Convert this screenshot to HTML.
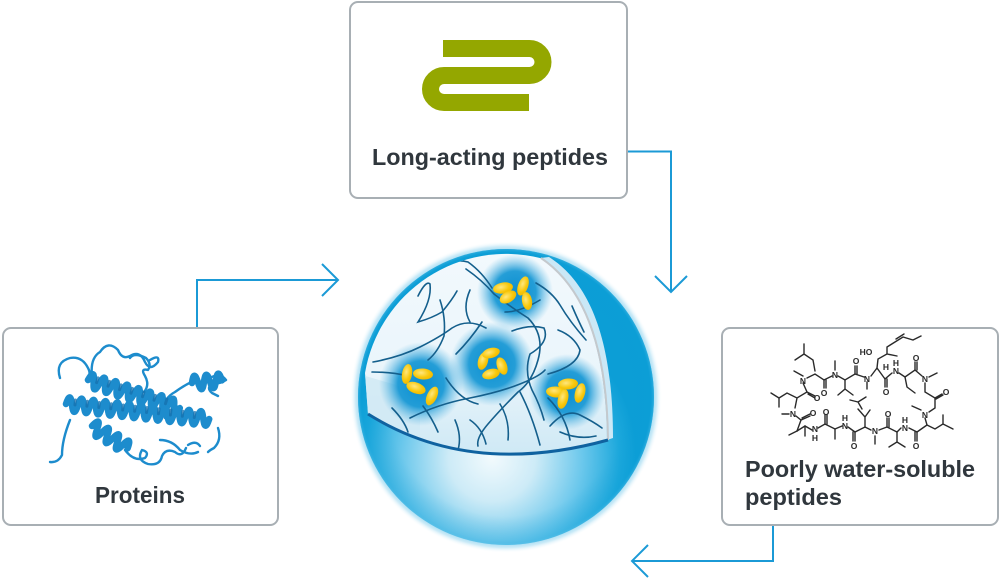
<!DOCTYPE html>
<html><head><meta charset="utf-8">
<style>
html,body{margin:0;padding:0;background:#fff;}
body{width:1000px;height:580px;overflow:hidden;}
svg{display:block;}
.lbl{font-family:"Liberation Sans",sans-serif;font-weight:bold;fill:#30373d;}
.at{font-family:"Liberation Sans",sans-serif;font-weight:bold;font-size:8.5px;fill:#2a2a2a;text-anchor:middle;}
</style></head>
<body>
<svg width="1000" height="580" viewBox="0 0 1000 580" xmlns="http://www.w3.org/2000/svg">
<defs>
  <radialGradient id="body" gradientUnits="userSpaceOnUse" cx="492" cy="458" r="145">
    <stop offset="0" stop-color="#f2fafd"/>
    <stop offset="0.3" stop-color="#cdebf7"/>
    <stop offset="0.62" stop-color="#6cc8ec"/>
    <stop offset="0.88" stop-color="#1ca8dc"/>
    <stop offset="1" stop-color="#0c9ed6"/>
  </radialGradient>
  <radialGradient id="shell" gradientUnits="userSpaceOnUse" cx="506" cy="397" r="149">
    <stop offset="0.8" stop-color="#0a95d0" stop-opacity="0"/>
    <stop offset="0.97" stop-color="#0a9dd6" stop-opacity="0.25"/>
    <stop offset="1" stop-color="#5cc2ea" stop-opacity="0.6"/>
  </radialGradient>
  <radialGradient id="halo" gradientUnits="userSpaceOnUse" cx="506" cy="397" r="156">
    <stop offset="0.93" stop-color="#8fd3ef" stop-opacity="1"/>
    <stop offset="0.965" stop-color="#bfe6f6" stop-opacity="0.8"/>
    <stop offset="1" stop-color="#ffffff" stop-opacity="0"/>
  </radialGradient>
  <linearGradient id="face" x1="0" y1="0" x2="0" y2="1">
    <stop offset="0" stop-color="#f2f9fd"/>
    <stop offset="0.6" stop-color="#eaf5fb"/>
    <stop offset="1" stop-color="#cfe9f5"/>
  </linearGradient>
  <radialGradient id="glow">
    <stop offset="0" stop-color="#0a8ed0" stop-opacity="1"/>
    <stop offset="0.55" stop-color="#1396d4" stop-opacity="0.92"/>
    <stop offset="1" stop-color="#5ab8e4" stop-opacity="0"/>
  </radialGradient>
  <radialGradient id="yel" cx="0.4" cy="0.4" r="0.7">
    <stop offset="0" stop-color="#ffe77e"/>
    <stop offset="0.6" stop-color="#f8c80c"/>
    <stop offset="1" stop-color="#eeb400"/>
  </radialGradient>
  <clipPath id="faceclip">
    <path d="M365,373 A143,143 0 0 1 540,258 C580,285 606,340 607,440 Q470,476 368,414 Z"/>
  </clipPath>
</defs>

<!-- Boxes -->
<rect x="350" y="2" width="277" height="196" rx="8" ry="8" fill="#fff" stroke="#a8afb4" stroke-width="2"/>
<rect x="3" y="328" width="275" height="197" rx="8" ry="8" fill="#fff" stroke="#a8afb4" stroke-width="2"/>
<rect x="722" y="328" width="276" height="197" rx="8" ry="8" fill="#fff" stroke="#a8afb4" stroke-width="2"/>

<!-- Green logo -->
<path d="M443,48.5 H529.5 A13.5,13.5 0 0 1 529.5,75.5 H444 A13.5,13.5 0 0 0 444,102.5 H529" fill="none" stroke="#94a700" stroke-width="17"/>

<!-- Labels -->
<text class="lbl" x="372" y="165" font-size="23" textLength="236" lengthAdjust="spacingAndGlyphs">Long-acting peptides</text>
<text class="lbl" x="95" y="503" font-size="23" textLength="90" lengthAdjust="spacingAndGlyphs">Proteins</text>
<text class="lbl" x="745" y="477" font-size="23" textLength="230" lengthAdjust="spacingAndGlyphs">Poorly water-soluble</text>
<text class="lbl" x="745" y="505" font-size="23" textLength="97" lengthAdjust="spacingAndGlyphs">peptides</text>

<!-- Arrows -->
<g fill="none" stroke="#1b9ad6" stroke-width="2">
  <path d="M628,151.5 H671 V292"/>
  <path d="M655,276 L671,292 L687,276"/>
  <path d="M197,327 V280 H338"/>
  <path d="M322,264 L338,280 L322,296"/>
  <path d="M773,526 V561 H633"/>
  <path d="M648,545 L632,561 L648,577"/>
</g>

<!-- Sphere -->
<circle cx="506" cy="397" r="156" fill="url(#halo)"/>
<circle cx="506" cy="397" r="148" fill="url(#body)"/>
<circle cx="506" cy="397" r="148" fill="url(#shell)"/>
<!-- inner shell lighter area near cut edge -->
<path d="M540,258 C580,285 606,340 607,440 L613,438 C613,340 590,283 549,257 Z" fill="#dff0f9" opacity="0.9"/>
<path d="M365,373 A143,143 0 0 1 540,258 C580,285 606,340 607,440 Q470,476 368,414 Z" fill="url(#face)"/>
<g clip-path="url(#faceclip)">
  <path d="M362,375 L420,392 L420,430 L362,430 Z" fill="#cfe8f4" opacity="0.8"/>
  <circle cx="515" cy="292" r="38" fill="url(#glow)"/>
  <circle cx="492" cy="364" r="42" fill="url(#glow)"/>
  <circle cx="421" cy="384" r="42" fill="url(#glow)"/>
  <circle cx="567" cy="392" r="38" fill="url(#glow)"/>
  <g fill="none" stroke="#145f8c" stroke-width="1.6" stroke-linecap="round">
    <path d="M373,362 Q400,357 420,347 T452,328 Q468,318 486,328"/>
    <path d="M418,296 Q426,280 430,284 Q432,300 418,322 Q432,318 442,312 Q452,300 457,291"/>
    <path d="M433,268 Q452,258 468,262 Q482,272 492,288"/>
    <path d="M466,269 Q482,280 494,294 Q512,308 528,318 Q545,335 538,360 Q532,382 518,392 Q500,410 488,424 T478,446"/>
    <path d="M512,331 Q530,324 544,328 Q550,342 530,354 Q524,372 532,390 Q540,405 544,420"/>
    <path d="M536,283 Q552,292 560,305 Q570,322 586,340"/>
    <path d="M558,330 Q574,336 580,350 Q578,366 548,374"/>
    <path d="M410,418 Q438,404 470,398 Q500,392 520,384 T545,370"/>
    <path d="M423,406 Q432,418 438,432"/>
    <path d="M470,420 Q482,428 486,444"/>
    <path d="M520,392 Q532,415 540,445"/>
    <path d="M550,426 Q566,408 580,415 T602,428"/>
    <path d="M548,398 Q566,416 570,440"/>
    <path d="M446,378 Q460,400 478,404"/>
    <path d="M456,354 Q470,340 482,322"/>
    <path d="M372,372 Q392,372 408,376"/>
    <path d="M572,306 Q578,320 584,332"/>
    <path d="M440,300 Q446,318 444,336 Q438,352 428,360"/>
    <path d="M500,404 Q510,420 508,440"/>
    <path d="M560,432 Q578,440 596,436"/>
    <path d="M470,290 Q462,308 470,322"/>
    <path d="M392,408 Q404,420 408,432"/>
    <path d="M540,300 Q520,312 505,312"/>
    <path d="M455,420 Q462,436 458,450"/>
  </g>
  <g fill="url(#yel)">
    <!-- top cluster -->
    <ellipse cx="503" cy="288" rx="10" ry="5.5" transform="rotate(-10 503 288)"/>
    <ellipse cx="508" cy="297" rx="9" ry="5.5" transform="rotate(-30 508 297)"/>
    <ellipse cx="523" cy="286" rx="5" ry="10" transform="rotate(20 523 286)"/>
    <ellipse cx="527" cy="301" rx="5" ry="9" transform="rotate(-10 527 301)"/>
    <!-- center ring -->
    <ellipse cx="483" cy="361" rx="5" ry="9" transform="rotate(15 483 361)"/>
    <ellipse cx="491" cy="353" rx="9" ry="5" transform="rotate(-15 491 353)"/>
    <ellipse cx="502" cy="366" rx="5" ry="9" transform="rotate(-20 502 366)"/>
    <ellipse cx="491" cy="374" rx="9" ry="5" transform="rotate(-15 491 374)"/>
    <!-- left cluster -->
    <ellipse cx="407" cy="374" rx="5" ry="10" transform="rotate(10 407 374)"/>
    <ellipse cx="423" cy="374" rx="10" ry="5.5" transform="rotate(5 423 374)"/>
    <ellipse cx="416" cy="388" rx="10" ry="5.5" transform="rotate(20 416 388)"/>
    <ellipse cx="432" cy="396" rx="5" ry="10" transform="rotate(25 432 396)"/>
    <!-- right cluster -->
    <ellipse cx="568" cy="384" rx="10" ry="5.5" transform="rotate(-5 568 384)"/>
    <ellipse cx="556" cy="392" rx="10" ry="5.5" transform="rotate(5 556 392)"/>
    <ellipse cx="563" cy="399" rx="5" ry="10" transform="rotate(15 563 399)"/>
    <ellipse cx="580" cy="393" rx="5" ry="10" transform="rotate(15 580 393)"/>
  </g>
</g>
<path d="M541,258 C581,285 607,340 608,440" fill="none" stroke="#c4c9cd" stroke-width="2"/>
<path d="M368,414 Q470,478 608,440" fill="none" stroke="#0f62a0" stroke-width="3"/>

<!-- Protein -->
<g fill="none" stroke="#1d8ccd" stroke-linecap="round" stroke-linejoin="round">
  <g stroke-width="2.4">
    <path d="M60,378 Q55,362 70,358 Q82,356 88,368 Q92,375 86,380"/>
    <path d="M92,376 Q90,358 100,352 Q108,340 118,350 Q122,360 130,356 Q140,350 145,362 Q150,372 158,362 Q160,354 150,360"/>
    <path d="M130,358 Q134,352 146,358 Q152,364 148,370 Q140,368 145,376 Q150,385 144,392"/>
    <path d="M165,418 Q160,400 175,392 Q186,384 196,380"/>
    <path d="M210,378 Q220,372 226,380 Q220,384 212,384 Q206,388 212,393 Q218,396 218,396"/>
    <path d="M70,420 Q62,440 62,455 Q58,463 50,462"/>
    <path d="M125,450 Q134,462 145,458 Q150,452 142,450 Q136,460 148,464 Q160,466 162,456 Q166,448 175,452 Q182,458 186,448"/>
    <path d="M160,440 Q172,440 180,450 Q190,456 198,452"/>
    <path d="M218,428 Q222,440 214,448 Q210,450 208,452"/>
    <path d="M188,445 Q196,440 200,446"/>
  </g>
  <g stroke-width="6.5">
    <path transform="translate(88,380) rotate(17)" d="M0,0 q3,-14 6,0 t6,0 t6,0 t6,0 t6,0 t6,0 t6,0 t6,0 t6,0 t6,0 t6,0 t6,0 t6,0 t6,0 t6,0 t6,0"/>
    <path transform="translate(66,404) rotate(6)" d="M0,0 q3,-14 6,0 t6,0 t6,0 t6,0 t6,0 t6,0 t6,0 t6,0 t6,0 t6,0 t6,0 t6,0 t6,0 t6,0 t6,0 t6,0 t6,0 t6,0 t6,0 t6,0 t6,0 t6,0 t6,0 t6,0"/>
    <path transform="translate(92,426) rotate(32)" d="M0,0 q3,-14 6,0 t6,0 t6,0 t6,0 t6,0 t6,0 t6,0"/>
    <path transform="translate(192,383) rotate(-5)" d="M0,0 q3,-14 6,0 t6,0 t6,0 t6,0 t6,0"/>
  </g>
  <g stroke="#1570ae" stroke-width="3" opacity="0.75">
    <path transform="translate(88,380) rotate(17)" d="M9,-5 l0,5 M21,-5 l0,5 M33,-5 l0,5 M45,-5 l0,5 M57,-5 l0,5 M69,-5 l0,5 M81,-5 l0,5"/>
    <path transform="translate(66,404) rotate(6)" d="M9,-5 l0,5 M21,-5 l0,5 M33,-5 l0,5 M45,-5 l0,5 M57,-5 l0,5 M69,-5 l0,5 M81,-5 l0,5 M93,-5 l0,5 M105,-5 l0,5 M117,-5 l0,5 M129,-5 l0,5"/>
  </g>
</g>

<!-- Chemical structure -->
<g fill="none" stroke="#2a2a2a" stroke-width="1.4" stroke-linecap="round">
  <path d="M804,344 V354 M795,360 L804,354 L813,360 L815,371"/>
  <path d="M807,378 L815,374 L824,380 L832,376 M838,376 L845,380 L855,374 L864,377 M871,376 L877,368 L885,379 L892,373 M899,373 L905,377 L915,370 L922,376"/>
  <path d="M803,376 L794,371 M835,370 V361 M824,380 V388 M826,380 V388 M855,374 V366 M857,374 V366 M885,379 V387 M887,379 V387 M915,370 V362 M917,370 V362"/>
  <path d="M845,380 V389 L838,395 M845,389 L853,395"/>
  <path d="M867,382 V389 M905,377 L907,387 L915,393 M929,377 L937,373"/>
  <path d="M877,368 L878,359 L887,354 L887,347 L895,342 L903,337 L913,340 L921,336 M896,339 L904,334 M887,354 L897,356"/>
  <path d="M925,383 V392 L935,398 V408 L929,412 M935,398 L942,394 M936,399 L943,395 M921,410 L912,406 M925,418 L927,425 L935,429 L943,424 V415 M943,424 L953,429"/>
  <path d="M927,425 L917,432 L909,428 M901,428 L897,432 L887,427 L879,430 M871,430 L865,427 L855,432 L848,427 M842,426 L835,429 L825,424 L818,428 M812,430 L805,426 L797,431"/>
  <path d="M917,432 V441 M915,432 V441 M897,432 V442 L889,447 M897,442 L905,447 M887,427 V418 M889,427 V418 M875,436 V444 M865,427 V417 L858,409 M865,417 L870,410 M855,432 V441 M853,432 V441 M835,429 V439 M825,424 V415 M827,424 V415 M805,426 V436 M797,431 L789,435"/>
  <path d="M862,409 L858,402 L866,397 M858,402 L850,400"/>
  <path d="M803,383 L807,392 L797,398 L787,393 L779,398 L771,393 M779,398 V407 M807,392 L815,396 M808,394 L815,398 M797,398 L795,408 M789,414 L782,414 M796,416 L801,420 L810,416 M801,420 L797,431 M802,418 L810,414"/>
</g>
<g>
  <text class="at" x="803" y="384">N</text>
  <text class="at" x="835" y="378">N</text>
  <text class="at" x="867" y="382">N</text>
  <text class="at" x="896" y="374">N</text>
  <text class="at" x="896" y="366">H</text>
  <text class="at" x="886" y="370">H</text>
  <text class="at" x="866" y="355">HO</text>
  <text class="at" x="925" y="382">N</text>
  <text class="at" x="824" y="396">O</text>
  <text class="at" x="886" y="395">O</text>
  <text class="at" x="856" y="364">O</text>
  <text class="at" x="916" y="361">O</text>
  <text class="at" x="817" y="401">O</text>
  <text class="at" x="946" y="395">O</text>
  <text class="at" x="925" y="418">N</text>
  <text class="at" x="905" y="431">N</text>
  <text class="at" x="905" y="423">H</text>
  <text class="at" x="916" y="449">O</text>
  <text class="at" x="888" y="417">O</text>
  <text class="at" x="875" y="434">N</text>
  <text class="at" x="854" y="449">O</text>
  <text class="at" x="845" y="429">N</text>
  <text class="at" x="845" y="421">H</text>
  <text class="at" x="826" y="415">O</text>
  <text class="at" x="815" y="432">N</text>
  <text class="at" x="815" y="441">H</text>
  <text class="at" x="793" y="417">N</text>
  <text class="at" x="813" y="416">O</text>
</g>
</svg>
</body></html>
